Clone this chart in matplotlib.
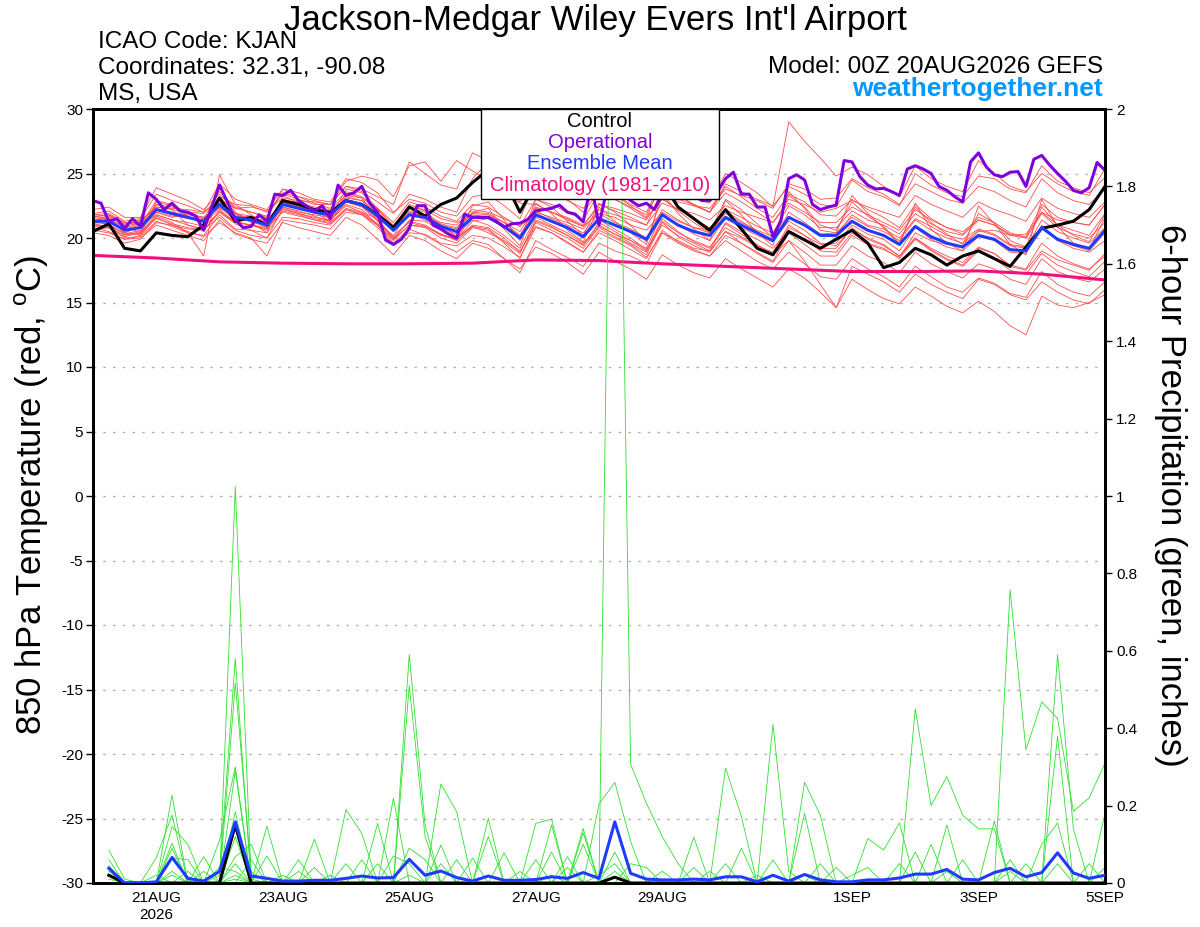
import numpy as np
import matplotlib
matplotlib.use('Agg')
import matplotlib.pyplot as plt
from matplotlib.patches import Rectangle

plt.rcParams['font.family'] = ['Liberation Sans', 'DejaVu Sans']
plt.rcParams['mathtext.fontset'] = 'custom'
plt.rcParams['mathtext.rm'] = 'Liberation Sans'
plt.rcParams['axes.unicode_minus'] = False

# forecast hours from 00Z 20AUG2026
hours_6h = np.arange(0, 385, 6)        # 65 temperature steps
hours_3h = np.arange(0, 385, 3)        # operational run, 129 steps
hours_pcp = np.arange(6, 385, 6)       # 64 six-hour accumulations
hours_day = np.arange(0, 385, 24)      # climatology, daily

tick_hours = [24, 72, 120, 168, 216, 288, 336, 384]
tick_labels = ['21AUG\n2026', '23AUG', '25AUG', '27AUG', '29AUG', '1SEP', '3SEP', '5SEP']

# 850 hPa temperature (C)
control_t = [20.5, 21.1, 19.2, 19.0, 20.4, 20.2, 20.1, 21.0, 23.1, 21.3, 21.6, 21.0, 22.9, 22.6, 22.2, 22.0,
             22.9, 22.6, 21.8, 20.8, 22.4, 21.7, 22.6, 23.1, 24.3, 25.3, 24.5, 22.0, 24.2, 24.8, 25.2, 24.6,
             25.0, 24.7, 24.2, 24.6, 24.3, 22.4, 21.5, 20.6, 22.2, 20.7, 19.2, 18.7, 20.5, 19.85, 19.2, 19.9,
             20.6, 19.6, 17.7, 18.1, 19.2, 18.7, 17.9, 18.6, 19.0, 18.4, 17.8, 19.3, 20.75, 21.0, 21.3, 22.2,
             24.0]
mean_t = [21.3, 21.3, 20.6, 20.8, 22.2, 21.9, 21.6, 21.3, 22.6, 21.6, 21.4, 21.0, 22.6, 22.3, 22.0, 21.8,
          22.9, 22.6, 21.7, 20.6, 21.8, 21.6, 20.9, 20.5, 21.6, 21.6, 20.9, 20.0, 21.8, 21.3, 20.8, 20.1,
          21.5, 21.0, 20.5, 19.9, 21.8, 21.0, 20.5, 20.2, 21.6, 21.0, 20.4, 19.8, 21.6, 21.0, 20.2, 20.2,
          21.3, 20.6, 20.2, 19.5, 20.9, 20.1, 19.6, 19.3, 20.2, 19.9, 19.1, 19.0, 20.8, 19.9, 19.5, 19.2,
          20.6]
oper_t = [22.9, 22.7, 21.3, 21.5, 20.75, 21.5, 20.9, 23.5, 23.0, 22.2, 22.7, 22.1, 22.0, 21.7, 20.6, 22.4,
          24.1, 22.8, 21.4, 20.8, 20.9, 21.8, 21.3, 23.4, 23.3, 23.7, 22.9, 22.5, 22.1, 22.5, 21.5, 24.1,
          23.3, 23.5, 24.0, 22.7, 22.0, 19.85, 19.5, 19.9, 20.75, 22.5, 22.5, 21.0, 20.7, 20.3, 20.0, 21.85,
          21.6, 21.6, 21.6, 21.3, 20.85, 21.1, 21.15, 21.45, 22.1, 22.2, 22.3, 22.55, 22.0, 21.85, 21.25, 24.2,
          21.0, 23.8, 24.2, 23.5, 22.9, 22.5, 22.7, 22.2, 23.4, 24.0, 24.4, 24.0, 23.3, 22.9, 22.9, 23.6,
          24.6, 25.1, 23.4, 23.4, 22.4, 22.4, 20.1, 21.3, 24.6, 24.9, 24.5, 22.6, 22.2, 22.4, 22.55, 26.0,
          25.9, 24.75, 24.1, 23.8, 23.85, 23.6, 23.3, 25.35, 25.6, 25.35, 25.0, 24.0, 23.7, 23.2, 22.8, 25.9,
          26.6, 25.5, 24.9, 24.75, 25.1, 25.15, 24.0, 26.1, 26.4, 25.65, 25.0, 24.4, 23.7, 23.5, 23.9, 25.85,
          25.25]
clim_t = [18.65, 18.45, 18.15, 18.05, 18.0, 18.0, 18.05, 18.3, 18.25, 18.0, 17.8, 17.6, 17.4, 17.4, 17.45,
          17.2, 16.75]

temp_members = [
    [21.8, 21.9, 21.2, 21.0, 22.9, 22.6, 21.9, 21.5, 23.6, 22.4, 22.0, 21.7, 23.5, 23.2, 22.9, 22.6,
     24.0, 23.6, 22.8, 21.9, 23.4, 23.0, 22.4, 22.0, 24.6, 25.9, 24.5, 22.8, 24.2, 23.6, 22.9, 22.3,
     23.8, 23.4, 22.6, 22.0, 24.5, 23.8, 23.1, 22.7, 25.0, 24.3, 23.5, 22.4, 29.0, 27.5, 26.2, 24.8,
     25.5, 24.9, 24.0, 23.2, 25.6, 24.6, 24.0, 23.6, 26.0, 25.0, 24.0, 23.6, 25.0, 24.2, 23.6, 23.3, 25.4],
    [20.6, 20.4, 19.9, 20.0, 21.0, 20.6, 20.2, 19.8, 21.4, 20.3, 19.9, 19.6, 21.2, 20.8, 20.5, 20.2,
     21.6, 21.0, 19.9, 18.7, 20.2, 19.8, 19.0, 18.4, 19.6, 19.2, 18.4, 17.6, 19.3, 18.8, 18.1, 17.2,
     18.9, 18.2, 17.6, 16.8, 18.7, 17.9, 17.3, 16.9, 18.4, 17.6, 16.9, 16.2, 17.6, 16.9, 15.8, 14.6,
     16.8, 16.0, 15.3, 14.9, 16.2, 15.5, 14.7, 14.2, 15.1, 14.3, 13.2, 12.5, 15.5, 14.8, 14.6, 15.0, 15.6],
    [21.1, 21.5, 20.4, 20.3, 22.8, 22.5, 21.7, 21.0, 23.9, 22.0, 21.2, 20.4, 23.3, 22.7, 22.1, 21.5,
     23.8, 23.5, 22.3, 20.8, 22.6, 22.1, 21.0, 20.1, 22.5, 22.8, 21.4, 19.8, 23.0, 22.4, 21.3, 20.2,
     22.7, 22.0, 21.0, 19.7, 23.2, 22.1, 21.2, 20.4, 23.0, 22.2, 21.1, 20.0, 23.3, 22.4, 21.0, 20.6,
     22.8, 21.7, 20.9, 19.6, 22.4, 21.2, 20.3, 19.5, 21.9, 21.2, 19.8, 19.3, 22.4, 21.0, 20.2, 19.7, 21.8],
    [21.6, 21.4, 20.9, 21.2, 22.4, 22.3, 22.2, 22.0, 23.0, 22.3, 22.4, 22.1, 23.1, 22.9, 22.8, 22.6,
     24.0, 23.8, 23.2, 22.6, 25.9, 25.0, 24.1, 23.8, 26.6, 26.0, 25.2, 24.0, 25.4, 24.6, 23.9, 23.0,
     24.1, 23.3, 22.5, 21.6, 23.0, 22.2, 21.5, 20.8, 22.1, 21.3, 20.5, 19.8, 21.3, 20.6, 19.6, 19.4,
     20.7, 20.0, 19.5, 18.6, 20.0, 19.1, 18.4, 17.9, 19.2, 18.8, 17.8, 17.5, 19.0, 18.3, 17.9, 17.5, 18.8],
    [20.9, 20.8, 20.0, 20.1, 21.3, 20.9, 20.4, 20.2, 21.8, 20.7, 20.6, 20.0, 21.6, 21.5, 21.2, 21.0,
     22.2, 21.9, 21.0, 19.8, 21.0, 20.9, 20.2, 19.9, 21.3, 21.5, 20.9, 20.2, 22.3, 22.0, 21.6, 21.0,
     22.6, 22.3, 21.9, 21.4, 23.4, 22.8, 22.5, 22.3, 23.8, 23.3, 22.9, 22.3, 24.2, 23.8, 23.0, 23.1,
     24.6, 23.9, 23.4, 22.6, 24.2, 23.6, 23.0, 22.7, 24.0, 23.6, 22.9, 22.4, 24.6, 23.5, 22.9, 22.6, 23.8],
    [21.4, 21.0, 20.3, 20.6, 22.0, 21.7, 21.6, 21.2, 22.2, 21.2, 21.0, 20.6, 22.4, 22.0, 21.8, 21.6,
     22.6, 22.2, 21.0, 19.6, 20.7, 20.2, 19.5, 18.9, 19.8, 19.5, 18.4, 17.3, 19.8, 19.1, 18.5, 17.8,
     19.6, 19.0, 18.6, 18.0, 20.4, 19.8, 19.2, 19.0, 20.5, 20.0, 19.3, 18.8, 20.8, 20.2, 19.5, 19.6,
     21.0, 20.3, 19.9, 19.0, 20.8, 19.9, 19.3, 19.0, 20.1, 19.8, 18.9, 18.8, 21.0, 19.9, 19.4, 19.0, 20.4],
    [21.9, 22.1, 21.3, 21.5, 23.4, 22.9, 22.5, 22.0, 24.2, 23.0, 22.6, 22.2, 23.8, 23.5, 23.0, 22.8,
     24.6, 24.3, 23.5, 22.0, 23.0, 22.7, 22.0, 21.7, 23.2, 23.4, 22.5, 21.5, 24.4, 23.7, 23.0, 22.0,
     23.6, 23.0, 22.3, 21.5, 24.6, 23.4, 22.5, 22.0, 24.0, 23.2, 22.3, 21.6, 23.4, 22.8, 21.8, 21.7,
     23.0, 22.2, 21.6, 20.8, 22.6, 21.5, 20.8, 20.3, 21.6, 21.2, 20.4, 20.0, 22.0, 21.0, 20.6, 20.2, 21.9],
    [20.8, 20.5, 19.9, 20.2, 21.6, 21.0, 20.5, 20.1, 21.2, 20.4, 20.0, 18.6, 21.4, 21.2, 21.0, 20.7,
     22.0, 21.8, 20.8, 19.5, 20.4, 20.3, 19.6, 19.4, 20.2, 20.0, 19.3, 18.5, 20.8, 20.4, 19.6, 18.9,
     20.6, 20.0, 19.4, 18.5, 20.4, 19.6, 19.0, 18.6, 19.8, 19.0, 18.2, 17.6, 18.9, 18.0, 17.0, 16.8,
     18.4, 17.6, 17.0, 16.2, 17.8, 17.0, 16.2, 15.8, 16.9, 16.5, 15.7, 15.4, 17.4, 16.4, 15.8, 15.5, 16.6],
    [21.2, 21.8, 20.9, 20.4, 22.6, 22.2, 21.0, 20.6, 23.2, 21.9, 21.3, 20.8, 22.9, 22.8, 22.0, 21.3,
     23.5, 23.1, 21.4, 20.1, 22.4, 22.0, 20.6, 19.8, 22.0, 22.3, 20.7, 19.4, 22.7, 21.9, 20.6, 19.7,
     22.4, 21.3, 20.4, 19.5, 23.5, 21.9, 20.7, 19.8, 22.9, 21.8, 20.4, 19.4, 23.6, 22.3, 20.6, 20.4,
     23.3, 21.9, 20.8, 19.5, 22.7, 20.7, 19.6, 19.0, 22.5, 21.1, 19.5, 18.7, 23.0, 20.9, 19.6, 19.1, 21.6],
    [21.5, 21.2, 20.7, 21.0, 22.0, 21.6, 21.9, 21.6, 22.4, 21.8, 21.6, 21.3, 22.2, 21.9, 21.6, 21.4,
     22.5, 22.0, 21.5, 20.9, 21.8, 21.7, 21.2, 21.0, 22.2, 22.0, 21.5, 20.9, 22.0, 21.6, 21.2, 20.7,
     22.2, 21.8, 21.4, 21.0, 22.7, 22.2, 21.9, 21.4, 22.5, 22.0, 21.6, 21.2, 23.0, 22.6, 22.0, 22.3,
     22.9, 22.4, 22.0, 21.6, 23.3, 22.6, 22.1, 21.6, 22.8, 22.2, 21.8, 21.3, 23.1, 22.3, 21.9, 21.6, 22.8],
    [21.0, 20.9, 20.4, 20.9, 21.8, 21.4, 21.2, 20.9, 22.0, 21.1, 20.6, 20.4, 22.1, 21.8, 21.4, 21.2,
     22.3, 22.0, 21.1, 20.2, 21.2, 20.9, 20.3, 19.8, 20.9, 20.4, 19.8, 19.0, 20.9, 20.4, 19.7, 18.9,
     20.4, 19.8, 19.1, 18.4, 20.6, 19.7, 19.1, 18.6, 20.2, 19.6, 18.9, 18.2, 20.4, 19.5, 18.6, 18.6,
     20.2, 19.5, 19.1, 18.5, 20.4, 19.8, 19.5, 19.4, 20.5, 20.6, 20.2, 20.3, 22.0, 21.4, 21.2, 21.0, 22.6],
    [21.3, 21.6, 21.0, 21.4, 22.3, 22.0, 21.8, 21.6, 22.4, 21.4, 21.3, 21.1, 22.7, 22.5, 22.1, 21.9,
     23.1, 22.9, 22.0, 20.9, 22.1, 21.6, 21.0, 20.7, 21.9, 21.8, 21.2, 20.2, 21.9, 21.3, 20.8, 20.0,
     21.4, 20.7, 20.0, 19.1, 21.0, 20.2, 19.6, 19.0, 21.2, 20.5, 19.9, 19.2, 20.6, 19.9, 19.0, 18.9,
     20.4, 19.6, 19.2, 18.4, 19.9, 19.0, 18.3, 17.8, 19.0, 18.4, 17.5, 17.2, 18.8, 17.9, 17.4, 17.0, 18.2],
    [21.7, 21.5, 20.8, 21.1, 22.6, 22.4, 22.0, 21.9, 23.2, 22.6, 22.5, 22.0, 23.4, 23.0, 22.6, 22.6,
     24.4, 24.8, 24.5, 23.2, 25.6, 25.9, 24.4, 26.0, 25.2, 24.5, 23.6, 22.7, 22.6, 22.0, 21.5, 20.9,
     21.9, 21.6, 21.0, 20.6, 22.0, 21.3, 20.8, 20.4, 21.9, 21.2, 20.6, 20.1, 21.6, 21.0, 20.3, 20.2,
     21.8, 21.0, 20.7, 20.0, 21.5, 20.9, 20.2, 19.9, 20.7, 20.3, 19.5, 19.3, 20.8, 19.8, 19.2, 18.9, 19.8],
    [20.4, 20.2, 19.6, 19.9, 21.2, 21.0, 20.7, 20.6, 22.0, 21.2, 21.0, 20.8, 22.0, 21.7, 21.4, 21.1,
     22.2, 21.8, 21.0, 19.9, 21.0, 20.8, 20.0, 19.6, 20.8, 20.6, 19.6, 18.4, 21.2, 20.6, 20.0, 19.2,
     20.9, 20.3, 19.6, 18.9, 21.3, 20.4, 19.8, 19.3, 20.8, 20.1, 19.4, 18.9, 21.0, 20.2, 19.2, 19.2,
     20.8, 19.9, 19.4, 18.6, 20.0, 19.2, 18.6, 18.1, 19.3, 18.8, 17.9, 17.6, 19.6, 18.6, 18.0, 17.6, 18.6],
    [21.6, 21.8, 21.2, 21.1, 22.2, 21.8, 21.5, 21.4, 22.8, 21.9, 21.7, 21.5, 22.6, 22.4, 22.1, 21.9,
     23.0, 22.6, 21.8, 20.9, 22.0, 21.7, 21.1, 20.8, 22.0, 21.9, 21.2, 20.5, 22.4, 22.0, 21.4, 20.9,
     22.6, 22.1, 21.6, 21.0, 23.8, 23.0, 22.6, 22.0, 24.2, 23.6, 23.0, 22.5, 24.0, 23.4, 22.6, 22.4,
     24.5, 23.6, 23.2, 22.5, 25.0, 24.1, 23.5, 23.2, 24.8, 24.6, 23.8, 23.5, 25.6, 24.4, 23.9, 23.5, 24.7],
    [21.1, 20.9, 20.1, 20.4, 21.8, 21.4, 21.0, 20.7, 21.6, 20.6, 20.2, 20.0, 22.3, 21.9, 21.5, 21.3,
     22.8, 22.4, 21.3, 19.9, 21.4, 21.3, 20.6, 20.0, 20.9, 20.7, 19.7, 18.8, 21.4, 20.9, 20.2, 19.4,
     21.2, 20.5, 19.8, 19.0, 21.5, 20.5, 19.7, 19.2, 21.1, 20.3, 19.5, 18.7, 19.8, 18.2, 16.4, 14.6,
     17.8, 17.2, 16.6, 15.8, 17.2, 16.4, 15.8, 15.3, 16.8, 16.4, 15.6, 15.2, 16.6, 15.8, 15.2, 14.9, 16.0],
    [21.8, 21.7, 21.1, 21.3, 22.4, 22.2, 21.9, 21.5, 22.3, 21.7, 21.6, 21.2, 23.0, 22.7, 22.4, 22.2,
     23.3, 23.1, 22.2, 21.0, 22.4, 22.2, 21.5, 21.2, 21.8, 21.6, 20.8, 19.9, 22.1, 21.5, 21.0, 20.4,
     21.9, 21.2, 20.7, 20.0, 22.2, 21.4, 20.8, 20.6, 22.2, 21.6, 20.9, 20.4, 22.5, 21.8, 20.8, 20.8,
     22.1, 21.4, 21.0, 20.3, 21.9, 21.1, 20.5, 20.2, 21.4, 21.0, 20.2, 20.0, 21.9, 20.8, 20.3, 20.0, 21.2],
    [21.2, 21.1, 20.3, 20.3, 21.7, 21.2, 20.4, 18.6, 24.9, 22.6, 21.8, 21.0, 22.8, 22.4, 22.0, 21.7,
     23.2, 22.9, 21.8, 20.5, 21.9, 21.4, 20.8, 20.3, 21.4, 21.0, 20.2, 19.2, 21.6, 21.0, 20.4, 19.6,
     21.0, 20.3, 19.8, 19.2, 21.9, 21.0, 20.3, 19.8, 21.5, 20.8, 20.2, 19.7, 22.0, 21.2, 20.3, 20.4,
     21.6, 20.9, 20.5, 19.8, 21.4, 20.6, 20.0, 19.6, 20.6, 20.2, 19.4, 19.2, 21.4, 20.5, 20.0, 19.6, 20.8],
    [20.6, 20.8, 20.2, 20.5, 21.5, 21.1, 20.8, 20.6, 22.1, 21.3, 21.0, 20.7, 22.4, 22.1, 21.7, 21.3,
     22.9, 22.5, 21.4, 20.0, 21.3, 21.0, 20.3, 19.9, 21.0, 20.8, 20.0, 18.9, 21.3, 20.8, 20.2, 19.5,
     20.8, 20.1, 19.5, 18.7, 21.2, 20.1, 19.4, 18.9, 20.5, 19.6, 18.8, 18.1, 19.8, 18.9, 17.9, 17.9,
     19.4, 18.6, 18.1, 17.3, 18.9, 18.0, 17.4, 16.9, 18.0, 17.6, 16.8, 16.4, 18.4, 17.4, 16.9, 16.6, 17.6],
    [22.2, 22.4, 21.6, 21.6, 23.9, 23.4, 22.9, 22.2, 23.4, 22.3, 22.0, 21.6, 23.8, 23.2, 22.7, 22.3,
     23.6, 23.2, 22.3, 21.2, 22.8, 22.4, 21.7, 21.3, 22.6, 22.4, 21.6, 20.9, 23.0, 22.6, 22.0, 21.4,
     23.5, 23.0, 22.4, 21.8, 24.2, 23.3, 22.6, 22.0, 23.5, 22.8, 22.0, 21.2, 22.7, 22.0, 21.2, 21.2,
     22.4, 21.8, 21.2, 20.6, 22.2, 21.4, 20.8, 20.5, 21.4, 21.0, 20.3, 20.1, 22.6, 21.6, 21.2, 21.0, 22.6],
]

# 6-hour precipitation (inches)
control_p = [0.02, 0, 0, 0, 0, 0, 0, 0, 0.15, 0, 0, 0, 0, 0, 0, 0,
             0, 0, 0, 0, 0, 0, 0, 0, 0, 0, 0, 0, 0, 0, 0, 0,
             0.015, 0, 0, 0, 0, 0, 0, 0, 0, 0, 0, 0, 0, 0, 0, 0,
             0, 0, 0, 0, 0, 0, 0, 0, 0, 0, 0, 0, 0, 0, 0, 0]
mean_p = [0.038, 0.0, 0.0, 0.003, 0.066, 0.012, 0.005, 0.030, 0.158, 0.018, 0.012, 0.005, 0.005, 0.007, 0.007, 0.012,
          0.018, 0.013, 0.014, 0.061, 0.020, 0.031, 0.014, 0.005, 0.018, 0.007, 0.007, 0.009, 0.016, 0.012, 0.027, 0.012,
          0.158, 0.025, 0.010, 0.008, 0.008, 0.010, 0.008, 0.016, 0.016, 0.003, 0.020, 0.005, 0.022, 0.008, 0.003, 0.003,
          0.008, 0.008, 0.013, 0.023, 0.023, 0.035, 0.010, 0.008, 0.027, 0.038, 0.016, 0.027, 0.078, 0.026, 0.012, 0.020]

precip_members = [
    [0.085, 0.01, 0, 0, 0.227, 0, 0, 0,  1.024, 0.01, 0, 0, 0, 0, 0, 0,
     0, 0, 0, 0, 0, 0.256, 0.184, 0,  0, 0, 0, 0, 0, 0, 0, 0,
     0, 0, 0, 0, 0, 0, 0, 0,  0, 0, 0, 0, 0.26, 0.175, 0, 0,
     0, 0, 0, 0, 0, 0, 0, 0,  0, 0.757, 0.344, 0.468, 0.425, 0.185, 0.22, 0.31],
    [0.06, 0, 0, 0.065, 0.176, 0, 0, 0.02,  0.58, 0, 0, 0, 0, 0, 0, 0,
     0, 0, 0, 0.59, 0.15, 0, 0, 0,  0, 0, 0, 0, 0, 0, 0, 0,
     3.0, 0.307, 0.206, 0.12, 0.05, 0, 0, 0,  0, 0, 0, 0, 0, 0, 0, 0,
     0, 0, 0, 0, 0, 0, 0, 0,  0, 0, 0, 0, 0.59, 0.14, 0, 0],
    [0.045, 0, 0, 0, 0.146, 0.1, 0, 0,  0.517, 0.03, 0, 0, 0, 0, 0, 0,
     0, 0, 0, 0.51, 0.12, 0, 0, 0,  0, 0, 0, 0, 0, 0, 0, 0,
     0, 0, 0, 0, 0, 0, 0, 0.297,  0.173, 0, 0, 0, 0, 0, 0, 0,
     0, 0, 0, 0.45, 0.2, 0.275, 0.175, 0.14,  0.14, 0, 0, 0, 0, 0, 0, 0],
    [0.03, 0, 0, 0, 0.103, 0, 0, 0.11,  0.30, 0, 0.147, 0, 0, 0, 0, 0.19,
     0.128, 0, 0, 0, 0, 0, 0, 0,  0, 0, 0, 0, 0, 0, 0, 0,
     0, 0, 0, 0, 0, 0, 0, 0,  0, 0, 0.41, 0.03, 0, 0, 0, 0,
     0, 0, 0, 0, 0, 0, 0, 0,  0, 0, 0, 0, 0.38, 0, 0, 0.18],
    [0.02, 0, 0, 0, 0.09, 0, 0, 0,  0.29, 0, 0, 0, 0, 0.113, 0, 0,
     0, 0, 0.219, 0, 0, 0, 0, 0,  0.167, 0, 0, 0, 0, 0, 0, 0.204,
     0.26, 0.107, 0, 0, 0, 0, 0, 0,  0, 0, 0, 0, 0, 0, 0, 0,
     0, 0, 0, 0, 0, 0.15, 0, 0,  0.16, 0, 0, 0, 0, 0, 0, 0],
    [0.01, 0, 0, 0, 0.065, 0.06, 0, 0,  0.184, 0, 0, 0, 0, 0, 0, 0,
     0, 0.154, 0, 0, 0, 0, 0, 0,  0, 0, 0, 0.154, 0.165, 0, 0.141, 0,
     0, 0, 0, 0, 0, 0, 0, 0,  0, 0, 0, 0, 0, 0, 0, 0,
     0.115, 0.085, 0.155, 0, 0, 0, 0, 0,  0, 0, 0, 0, 0, 0, 0, 0],
    [0, 0, 0, 0, 0.03, 0, 0.068, 0,  0.12, 0, 0, 0, 0.06, 0, 0, 0,
     0, 0, 0, 0, 0, 0, 0.06, 0,  0.12, 0, 0, 0, 0, 0, 0, 0,
     0, 0, 0, 0, 0, 0.118, 0, 0,  0, 0, 0, 0, 0.18, 0, 0, 0,
     0, 0, 0, 0, 0, 0, 0, 0,  0, 0, 0, 0.1, 0.155, 0, 0, 0],
    [0, 0, 0, 0.02, 0, 0.03, 0, 0,  0.068, 0.1, 0, 0, 0, 0, 0, 0,
     0, 0, 0, 0, 0, 0.098, 0, 0,  0, 0, 0, 0, 0.15, 0, 0.13, 0,
     0, 0.05, 0.04, 0, 0, 0, 0, 0,  0.09, 0, 0, 0, 0, 0, 0, 0,
     0, 0, 0, 0, 0.1, 0, 0.06, 0,  0, 0, 0, 0, 0, 0, 0, 0],
    [0, 0, 0, 0, 0, 0, 0.03, 0,  0.05, 0, 0.07, 0, 0, 0, 0, 0,
     0.06, 0, 0, 0, 0, 0, 0, 0,  0, 0.078, 0, 0, 0, 0.068, 0, 0,
     0.08, 0, 0, 0, 0, 0, 0, 0,  0, 0, 0, 0, 0, 0.05, 0, 0,
     0, 0, 0.05, 0, 0, 0, 0, 0,  0, 0.06, 0, 0, 0, 0, 0, 0],
    [0, 0, 0, 0, 0, 0, 0, 0.04,  0.03, 0, 0, 0, 0, 0.04, 0, 0,
     0, 0, 0, 0.09, 0.06, 0, 0, 0.064,  0, 0, 0, 0, 0, 0, 0.10, 0,
     0, 0, 0, 0, 0, 0, 0, 0.05,  0, 0, 0, 0, 0, 0, 0, 0,
     0, 0, 0, 0.08, 0, 0, 0, 0,  0, 0, 0, 0, 0, 0, 0, 0],
    [0, 0, 0, 0, 0, 0, 0, 0,  0, 0.06, 0, 0.02, 0, 0, 0, 0.05,
     0, 0, 0.07, 0.05, 0, 0.05, 0, 0,  0, 0, 0, 0.06, 0, 0.04, 0, 0,
     0, 0, 0, 0.03, 0, 0.04, 0, 0,  0, 0, 0.06, 0, 0, 0, 0.04, 0,
     0, 0, 0, 0, 0, 0, 0, 0,  0, 0, 0, 0, 0, 0, 0.05, 0],
    [0, 0, 0, 0, 0, 0, 0, 0,  0, 0, 0, 0, 0.03, 0, 0.02, 0,
     0, 0.05, 0, 0, 0, 0, 0, 0,  0, 0, 0.03, 0, 0.08, 0, 0, 0.02,
     0.05, 0, 0, 0, 0, 0, 0.03, 0,  0, 0.02, 0, 0, 0, 0, 0, 0.02,
     0.04, 0, 0, 0, 0, 0, 0, 0,  0, 0, 0.05, 0, 0, 0, 0, 0],
    [0, 0, 0, 0, 0.02, 0, 0, 0,  0.02, 0, 0, 0, 0, 0, 0, 0,
     0, 0, 0, 0, 0, 0, 0, 0,  0, 0, 0, 0, 0, 0, 0, 0,
     0, 0, 0, 0, 0, 0, 0, 0,  0, 0, 0, 0, 0, 0, 0, 0,
     0, 0, 0, 0, 0, 0, 0, 0,  0, 0, 0, 0, 0, 0, 0, 0],
    [0, 0, 0, 0, 0, 0, 0, 0,  0, 0, 0, 0, 0, 0, 0, 0,
     0, 0, 0, 0.02, 0, 0, 0, 0,  0, 0, 0, 0, 0, 0, 0, 0,
     0.03, 0, 0, 0, 0, 0, 0, 0,  0, 0, 0, 0, 0, 0, 0, 0,
     0, 0, 0, 0, 0, 0, 0, 0,  0, 0, 0, 0, 0, 0, 0, 0],
    [0.02, 0, 0, 0, 0, 0, 0, 0,  0, 0, 0, 0, 0, 0, 0, 0,
     0, 0, 0, 0, 0, 0, 0, 0,  0, 0, 0, 0, 0, 0, 0, 0,
     0, 0, 0, 0, 0, 0, 0, 0,  0, 0, 0, 0, 0, 0, 0, 0,
     0, 0, 0, 0, 0, 0.03, 0, 0,  0, 0, 0, 0, 0, 0, 0, 0],
    [0, 0, 0, 0, 0, 0, 0, 0,  0, 0, 0, 0, 0, 0, 0, 0,
     0, 0, 0, 0, 0, 0, 0, 0,  0, 0, 0, 0, 0, 0, 0, 0,
     0, 0, 0, 0, 0, 0, 0, 0,  0, 0, 0, 0, 0, 0, 0, 0,
     0, 0, 0, 0, 0, 0, 0, 0,  0, 0, 0, 0, 0.05, 0, 0, 0.04],
    [0, 0, 0, 0, 0, 0, 0, 0,  0.01, 0, 0, 0, 0, 0, 0, 0,
     0, 0, 0, 0, 0, 0, 0, 0,  0, 0, 0, 0, 0, 0, 0, 0,
     0, 0, 0, 0, 0, 0, 0, 0,  0, 0, 0, 0, 0, 0, 0, 0,
     0, 0, 0, 0, 0, 0, 0, 0,  0, 0, 0, 0, 0, 0, 0, 0],
    [0, 0, 0, 0, 0, 0, 0, 0,  0, 0, 0, 0, 0, 0, 0, 0,
     0, 0, 0, 0, 0, 0, 0, 0,  0, 0, 0, 0, 0, 0, 0, 0,
     0, 0, 0, 0, 0, 0, 0, 0,  0, 0, 0, 0, 0.02, 0, 0, 0,
     0, 0, 0, 0, 0, 0, 0, 0,  0, 0, 0, 0, 0, 0, 0, 0],
    [0, 0, 0, 0, 0, 0, 0, 0,  0, 0, 0, 0, 0, 0, 0, 0,
     0, 0, 0, 0, 0, 0, 0, 0,  0, 0, 0, 0, 0.02, 0, 0, 0,
     0, 0, 0, 0, 0, 0, 0, 0,  0, 0, 0, 0, 0, 0, 0, 0,
     0, 0, 0, 0, 0, 0, 0, 0,  0, 0, 0, 0, 0, 0, 0, 0],
    [0, 0, 0, 0, 0, 0, 0, 0,  0, 0, 0, 0, 0, 0, 0, 0,
     0, 0, 0, 0, 0, 0, 0, 0,  0, 0, 0, 0, 0, 0, 0, 0,
     0, 0, 0, 0, 0, 0, 0, 0,  0, 0, 0, 0, 0, 0, 0, 0,
     0, 0, 0, 0, 0, 0, 0, 0,  0, 0.03, 0, 0, 0, 0, 0, 0],
]

RED = '#ff4d4d'
GREEN = '#2ee02e'
PURPLE = '#8000dc'
BLUE = '#1e3cff'
PINK = '#f0107e'

fig = plt.figure(figsize=(12, 9.27), dpi=100)
ax = fig.add_axes([93 / 1200, 44 / 927, 1012 / 1200, 774 / 927])
ax2 = ax.twinx()

for T in range(-25, 30, 5):
    ax.axhline(T, color='#b4b4b4', lw=1.0, ls=(0, (2, 5)), zorder=0)

for m in temp_members:
    ax.plot(hours_6h, m, color=RED, lw=0.6, zorder=1)
ax.plot(hours_day, clim_t, color=PINK, lw=2.2, zorder=3)
ax.plot(hours_6h, control_t, color='black', lw=2.2, zorder=4)
ax.plot(hours_6h, mean_t, color=BLUE, lw=2.2, zorder=5)
ax.plot(hours_3h, oper_t, color=PURPLE, lw=2.2, zorder=6)

for m in precip_members:
    ax2.plot(hours_pcp, m, color=GREEN, lw=0.6, zorder=1)
ax2.plot(hours_pcp, control_p, color='black', lw=2.2, zorder=4)
ax2.plot(hours_pcp, mean_p, color=BLUE, lw=2.2, zorder=5)

ax.set_xlim(0, 384)
ax.set_ylim(-30, 30)
ax2.set_ylim(0, 2)
ax.set_yticks(range(-30, 31, 5))
ax2.set_yticks(np.arange(0, 2.01, 0.2))
ax2.set_yticklabels(['0', '0.2', '0.4', '0.6', '0.8', '1', '1.2', '1.4', '1.6', '1.8', '2'])
ax.set_xticks(tick_hours)
ax.set_xticklabels(tick_labels)
ax.tick_params(axis='x', length=0, pad=6, labelsize=11)
ax.tick_params(axis='y', direction='out', length=5, width=1, pad=2, labelsize=11)
ax2.tick_params(axis='y', direction='out', length=5, width=1, pad=3, labelsize=11)
for a in (ax, ax2):
    for s in a.spines.values():
        s.set_linewidth(2.0)

# legend box
ax2.add_patch(Rectangle(((481 - 93) / 1012, (883 - 199) / 774), 238 / 1012, 90 / 774,
                        transform=ax2.transAxes, facecolor='white', edgecolor='black',
                        lw=1.0, zorder=20, clip_on=False))
leg = [('Control', 'black', 121), ('Operational', PURPLE, 142),
       ('Ensemble Mean', BLUE, 163), ('Climatology (1981-2010)', PINK, 185)]
for txt, col, ypix in leg:
    ax2.text((600 - 93) / 1012, (883 - ypix) / 774, txt, color=col, fontsize=14.5,
             ha='center', va='center', transform=ax2.transAxes, zorder=21)

fig.text(595 / 1200, 1 - 30 / 927, "Jackson-Medgar Wiley Evers Int'l Airport",
         ha='center', va='baseline', fontsize=25)
fig.text(98 / 1200, 1 - 48 / 927, 'ICAO Code: KJAN', ha='left', va='baseline', fontsize=17.5)
fig.text(98 / 1200, 1 - 74 / 927, 'Coordinates: 32.31, -90.08', ha='left', va='baseline', fontsize=17.5)
fig.text(98 / 1200, 1 - 100 / 927, 'MS, USA', ha='left', va='baseline', fontsize=17.5)
fig.text(1103 / 1200, 1 - 73 / 927, 'Model: 00Z 20AUG2026 GEFS', ha='right', va='baseline', fontsize=17.5)
fig.text(1103 / 1200, 1 - 96 / 927, 'weathertogether.net', ha='right', va='baseline',
         fontsize=19, fontweight='bold', color='#0099ff')

fig.text(32 / 1200, 1 - 495 / 927, r'850 hPa Temperature (red, $^{\rm o}$C)',
         rotation=90, ha='center', va='center', fontsize=25)
fig.text(1170 / 1200, 1 - 495 / 927, '6-hour Precipitation (green, inches)',
         rotation=270, ha='center', va='center', fontsize=25)

fig.savefig('out.png', dpi=100)
